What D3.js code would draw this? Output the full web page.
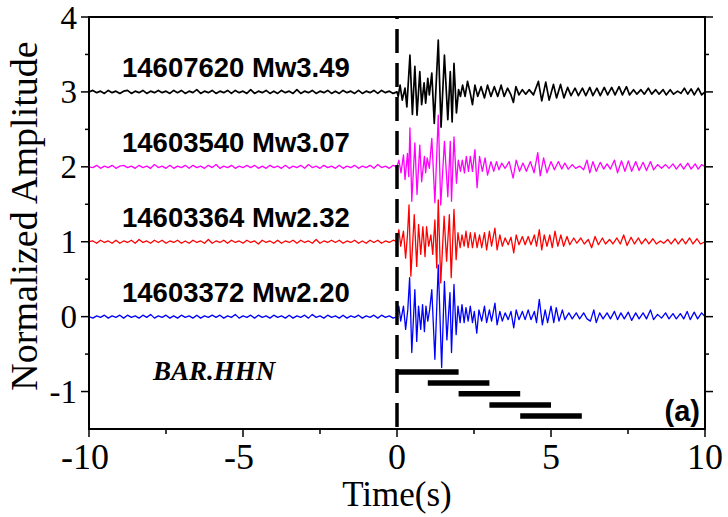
<!DOCTYPE html>
<html><head><meta charset="utf-8">
<script src="https://cdn.jsdelivr.net/npm/d3@7"></script>
<style>body{margin:0;background:#fff}svg{display:block}</style>
</head><body>
<svg id="chart" width="728" height="517"></svg>
<script>
// ---------- data ----------
const xTicks = [-10, -5, 0, 5, 10];
const xMinor = [-7.5, -2.5, 2.5, 7.5];
const yTicks = [-1, 0, 1, 2, 3, 4];
const yMinor = [-0.5, 0.5, 1.5, 2.5, 3.5];
const eventNames = ["14607620 Mw3.49", "14603540 Mw3.07", "14603364 Mw2.32", "14603372 Mw2.20"];
const offsets = [3, 2, 1, 0];
const colors = ["#000000", "#ff00ff", "#ff0000", "#0000ff"];
const stationLabel = "BAR.HHN";
const panelLabel = "(a)";
const pickTime = 0;
// time windows (start, end) and their levels
const winStart = [0, 1, 2, 3, 4];
const winEnd = [2, 3, 4, 5, 6];
const winLevel = [-0.74, -0.885, -1.03, -1.18, -1.325];

// pre-event noise: samples from -10 s every 0.125 s
const noiseStart = -10, noiseStep = 0.125;
const noiseBlack = [0,0.02,-0.01,0.01,-0.02,0.02,-0.01,0.01,-0.02,0.01,0.02,-0.02,0.01,-0.01,0.02,-0.02,0.01,-0.01,0.02,-0.01,0.01,-0.02,0.02,-0.01,0.02,-0.02,0.01,-0.01,0.03,-0.02,0.01,-0.01,0.02,-0.02,0.01,-0.01,0.02,-0.02,0.02,-0.01,0.01,-0.02,0.03,-0.02,0.01,-0.01,0.02,-0.02,0.01,-0.02,0.02,-0.01,0.01,-0.02,0.03,-0.02,0.01,-0.01,0.02,-0.02,0.01,-0.01,0.02,-0.02,0.01,-0.02,0.02,-0.01,0.01,-0.02,0.02,-0.02,0.01,-0.01,0.02,-0.02,0.02,-0.01,0.01,-0.02,0];
const noiseMagenta = [0,-0.01,0.02,-0.02,0.01,-0.01,0.02,-0.02,0.01,0.02,-0.01,0.01,-0.02,0.02,-0.01,0.01,-0.02,0.03,-0.01,0.01,-0.02,0.02,-0.02,0.01,-0.01,0.02,-0.02,0.02,-0.01,0.01,-0.02,0.02,-0.01,0.03,-0.02,0.01,-0.01,0.02,-0.02,0.01,-0.01,0.02,-0.01,0.02,-0.02,0.01,-0.02,0.02,-0.01,0.01,-0.02,0.02,-0.02,0.01,-0.01,0.02,-0.02,0.03,-0.01,0.01,-0.02,0.02,-0.01,0.01,-0.02,0.02,-0.02,0.01,-0.01,0.02,-0.02,0.01,-0.01,0.02,-0.02,0.03,-0.01,0.01,-0.02,0.02,0];
const noiseRed = [0,0.01,-0.02,0.02,-0.01,0.01,-0.02,0.02,-0.02,0.01,-0.01,0.02,-0.02,0.03,-0.01,0.01,-0.02,0.02,-0.01,0.02,-0.02,0.01,-0.01,0.02,-0.02,0.01,-0.02,0.02,-0.01,0.01,-0.02,0.03,-0.02,0.01,-0.01,0.02,-0.02,0.02,-0.01,0.01,-0.02,0.02,-0.01,0.01,-0.03,0.02,-0.01,0.01,-0.02,0.02,-0.02,0.01,-0.01,0.02,-0.02,0.02,-0.01,0.01,-0.02,0.03,-0.02,0.01,-0.01,0.02,-0.01,0.02,-0.02,0.01,-0.01,0.02,-0.02,0.01,-0.02,0.02,-0.01,0.02,-0.02,0.01,-0.01,0.02,0];
const noiseBlue = [0,-0.02,0.01,-0.01,0.02,-0.02,0.01,-0.01,0.02,-0.02,0.02,-0.01,0.01,-0.02,0.02,-0.01,0.03,-0.02,0.01,-0.01,0.02,-0.02,0.01,-0.02,0.02,-0.01,0.01,-0.02,0.02,-0.02,0.01,-0.01,0.02,-0.01,0.02,-0.02,0.01,-0.01,0.03,-0.02,0.01,-0.01,0.02,-0.02,0.02,-0.01,0.01,-0.02,0.02,-0.01,0.01,-0.02,0.02,-0.02,0.01,-0.01,0.02,-0.02,0.03,-0.01,0.01,-0.02,0.02,-0.01,0.01,-0.02,0.02,-0.02,0.01,-0.01,0.02,-0.02,0.01,-0.01,0.02,-0.02,0.02,-0.01,0.01,-0.02,0];

// post-event extrema: time (s) and amplitude relative to the trace offset
const tBlack = [0,0.04,0.10,0.17,0.26,0.32,0.42,0.50,0.58,0.65,0.74,0.80,0.88,0.93,1.00,1.05,1.13,1.21,1.34,1.43,1.54,1.65,1.73,1.79,1.85,1.93,2.00,2.06,2.13,2.21,2.29,2.38,2.45,2.53,2.62,2.73,2.84,2.94,3.05,3.16,3.27,3.38,3.48,3.59,3.70,3.78,3.86,3.96,4.07,4.18,4.29,4.43,4.59,4.70,4.83,4.94,5.08,5.18,5.31,5.42,5.54,5.65,5.78,5.89,6.02,6.13,6.26,6.36,6.49,6.60,6.73,6.84,6.97,7.08,7.21,7.32,7.45,7.55,7.68,7.79,7.92,8.03,8.16,8.27,8.40,8.51,8.64,8.74,8.87,8.98,9.11,9.22,9.33,9.44,9.55,9.65,9.78,9.89,10.0];
const aBlack = [0,-0.06,0.09,-0.11,0.05,-0.20,0.49,-0.30,0.34,-0.31,0.27,-0.17,0.12,-0.15,0.18,-0.04,0.25,-0.42,0.69,-0.47,0.49,-0.37,0.27,-0.40,0.38,-0.28,0.03,-0.06,0.09,-0.06,0.14,-0.02,-0.17,0.09,-0.06,0.07,-0.08,0.09,-0.06,0.07,-0.06,0.09,-0.06,0.05,-0.04,-0.14,0.07,-0.04,0.03,-0.03,0.03,-0.04,0.14,-0.12,0.13,-0.11,0.10,-0.08,0.10,-0.08,0.06,-0.05,0.05,-0.05,0.05,-0.05,0.06,-0.05,0.05,-0.05,0.06,-0.04,0.06,-0.04,0.07,-0.04,0.07,-0.04,0.03,-0.03,0.03,-0.03,0.05,-0.03,0.03,-0.03,0.03,-0.04,0.03,-0.03,0.01,-0.02,0.05,-0.03,0.04,-0.04,0.05,-0.04,0];
const tMagenta = [0,0.06,0.13,0.21,0.26,0.34,0.38,0.42,0.48,0.58,0.65,0.74,0.80,0.89,0.93,0.98,1.05,1.13,1.23,1.34,1.42,1.54,1.65,1.73,1.77,1.85,1.93,1.99,2.06,2.12,2.19,2.25,2.32,2.38,2.45,2.53,2.60,2.68,2.77,2.86,2.94,3.05,3.14,3.23,3.31,3.40,3.51,3.64,3.77,3.87,3.98,4.09,4.20,4.33,4.45,4.57,4.65,4.76,4.87,5.00,5.11,5.24,5.35,5.45,5.56,5.69,5.80,5.93,6.06,6.17,6.26,6.36,6.47,6.60,6.71,6.82,6.93,7.06,7.16,7.29,7.40,7.51,7.62,7.75,7.86,7.99,8.10,8.23,8.33,8.46,8.59,8.72,8.83,8.96,9.07,9.20,9.31,9.44,9.55,9.68,9.78,9.89,10.0];
const aMagenta = [0,0.09,-0.08,0.16,-0.17,0.18,-0.13,0.52,-0.46,0.32,-0.37,0.29,-0.20,0.14,-0.08,0.12,-0.02,0.38,-0.48,0.69,-0.51,0.34,-0.40,0.34,-0.46,0.40,-0.22,0.09,-0.06,0.09,-0.08,0.14,-0.06,0.14,-0.06,0.23,-0.28,0.14,-0.06,0.12,-0.11,0.07,-0.06,0.07,-0.04,0.05,-0.02,0.07,-0.15,0.09,-0.06,0.05,-0.06,0.07,-0.08,0.19,-0.12,0.12,-0.08,0.07,-0.04,0.07,-0.03,0.05,-0.03,0.03,-0.02,0.01,-0.04,0.09,-0.08,0.07,-0.06,0.06,-0.03,0.04,-0.03,0.09,-0.08,0.08,-0.06,0.08,-0.06,0.07,-0.05,0.06,-0.05,0.07,-0.04,0.03,-0.02,0.03,-0.02,0.04,-0.03,0.04,-0.03,0.05,-0.03,0.04,-0.03,0.03,0];
const tRed = [0,0.06,0.12,0.21,0.28,0.34,0.39,0.45,0.56,0.64,0.70,0.77,0.84,0.91,0.96,1.03,1.10,1.16,1.23,1.29,1.34,1.42,1.53,1.61,1.70,1.76,1.85,1.92,1.98,2.05,2.11,2.18,2.24,2.31,2.38,2.45,2.53,2.60,2.68,2.75,2.84,2.91,3.00,3.07,3.18,3.25,3.34,3.42,3.51,3.61,3.70,3.79,3.87,3.96,4.07,4.16,4.26,4.35,4.46,4.53,4.62,4.70,4.78,4.87,4.96,5.04,5.13,5.22,5.32,5.41,5.52,5.61,5.74,5.84,5.97,6.08,6.21,6.32,6.43,6.54,6.67,6.77,6.90,7.01,7.14,7.25,7.36,7.47,7.60,7.71,7.84,7.94,8.07,8.18,8.31,8.42,8.55,8.66,8.79,8.90,9.03,9.13,9.26,9.37,9.50,9.61,9.74,9.85,10.0];
const aRed = [0,0.16,-0.06,0.14,-0.22,0.09,0.49,-0.46,0.36,-0.33,0.23,-0.17,0.20,-0.20,0.20,-0.06,0.09,-0.17,0.29,-0.35,0.56,-0.55,0.34,-0.26,0.36,-0.48,0.43,-0.24,0.12,-0.08,0.09,-0.06,0.14,-0.08,0.12,-0.08,0.12,-0.08,0.09,-0.08,0.12,-0.11,0.14,-0.06,0.18,-0.11,0.09,-0.06,0.05,-0.04,0.06,-0.15,0.09,-0.04,0.07,-0.04,0.07,-0.04,0.09,-0.06,0.16,-0.11,0.09,-0.06,0.09,-0.08,0.14,-0.06,0.09,-0.06,0.07,-0.04,0.05,-0.02,0.05,-0.03,0.03,-0.08,0.07,-0.04,0.05,-0.03,0.03,-0.03,0.05,-0.03,0.09,-0.05,0.06,-0.03,0.05,-0.03,0.04,-0.03,0.04,-0.03,0.01,-0.02,0.03,-0.03,0.04,-0.03,0.04,-0.03,0.05,-0.03,0.04,-0.03,0];
const tBlue = [0,0.06,0.12,0.21,0.28,0.35,0.41,0.48,0.58,0.64,0.70,0.77,0.83,0.89,0.94,1.00,1.06,1.13,1.23,1.34,1.45,1.54,1.62,1.72,1.77,1.85,1.92,1.98,2.05,2.11,2.18,2.24,2.31,2.38,2.45,2.51,2.59,2.66,2.75,2.84,2.91,3.00,3.07,3.18,3.25,3.34,3.42,3.51,3.61,3.70,3.79,3.87,3.96,4.07,4.16,4.26,4.35,4.46,4.53,4.62,4.72,4.81,4.89,5.00,5.09,5.17,5.26,5.37,5.45,5.58,5.69,5.82,5.93,6.06,6.17,6.28,6.39,6.47,6.58,6.69,6.82,6.93,7.06,7.16,7.27,7.38,7.51,7.62,7.75,7.86,7.99,8.10,8.23,8.33,8.46,8.59,8.72,8.83,8.96,9.07,9.20,9.31,9.42,9.52,9.65,9.76,9.89,10.0];
const aBlue = [0,0.14,-0.06,0.14,-0.17,0.09,0.52,-0.48,0.36,-0.33,0.14,-0.17,0.16,-0.20,0.14,-0.06,0.09,0.36,-0.57,0.69,-0.68,0.47,-0.31,0.32,-0.48,0.43,-0.24,0.14,-0.08,0.16,-0.08,0.12,-0.06,0.14,-0.08,0.07,-0.22,0.09,-0.06,0.14,-0.08,0.09,-0.06,0.18,-0.11,0.07,-0.06,0.05,-0.04,0.07,-0.15,0.09,-0.04,0.07,-0.04,0.09,-0.04,0.07,-0.08,0.23,-0.11,0.09,-0.08,0.14,-0.08,0.12,-0.06,0.09,-0.04,0.05,-0.03,0.05,-0.03,0.05,-0.03,-0.06,0.09,-0.08,0.05,-0.03,0.05,-0.03,0.07,-0.04,0.05,-0.03,0.06,-0.05,0.05,-0.03,0.05,-0.03,0.09,-0.04,0.03,-0.02,0.05,-0.03,0.04,-0.03,0.04,-0.03,0.07,-0.04,0.06,-0.03,0.05,0];

const noises = [noiseBlack, noiseMagenta, noiseRed, noiseBlue];
const times = [tBlack, tMagenta, tRed, tBlue];
const amps = [aBlack, aMagenta, aRed, aBlue];

// ---------- drawing ----------
const svg = d3.select("#chart");
const L = 89, R = 705, T = 17, B = 429;
const x = d3.scaleLinear().domain([-10, 10]).range([L, R]);
const y = d3.scaleLinear().domain([-1.5, 4]).range([B, T]);
const serif = "'Liberation Serif','Times New Roman',serif";
const sans = "'Liberation Sans',Arial,Helvetica,sans-serif";
const widths = [1.7, 1.3, 1.3, 1.3];

// traces
const line = d3.line().x(d => x(d[0])).y(d => y(d[1]));
svg.append("clipPath").attr("id", "pc").append("rect")
  .attr("x", L).attr("y", T).attr("width", R - L).attr("height", B - T);
const traces = svg.append("g").attr("clip-path", "url(#pc)");
offsets.forEach((off, k) => {
  const pts = noises[k].map((v, i) => [noiseStart + i * noiseStep, off + v]).filter(p => p[0] < 0);
  times[k].forEach((t, i) => pts.push([t, off + amps[k][i]]));
  traces.append("path").datum(pts)
    .attr("d", line).attr("fill", "none")
    .attr("stroke", colors[k]).attr("stroke-width", widths[k])
    .attr("stroke-linejoin", "round");
});

// pick line
svg.append("line")
  .attr("x1", x(pickTime)).attr("x2", x(pickTime))
  .attr("y1", y(4)).attr("y2", y(-1.5))
  .attr("stroke", "#000").attr("stroke-width", 3.5)
  .attr("stroke-dasharray", "24,10").attr("stroke-dashoffset", 22);

// time windows
svg.append("g").selectAll("line").data(winStart).join("line")
  .attr("x1", d => x(d)).attr("x2", (d, i) => x(winEnd[i]))
  .attr("y1", (d, i) => y(winLevel[i])).attr("y2", (d, i) => y(winLevel[i]))
  .attr("stroke", "#000").attr("stroke-width", 5.5);

// event labels
offsets.forEach((off, k) => {
  svg.append("text").attr("x", 122).attr("y", y(off) - 15)
    .attr("font-family", sans).attr("font-weight", "bold").attr("font-size", 27.5)
    .attr("fill", "#000").text(eventNames[k]);
});
svg.append("text").attr("x", 153).attr("y", 380)
  .attr("font-family", serif).attr("font-weight", "bold").attr("font-style", "italic")
  .attr("font-size", 27).attr("fill", "#000").text(stationLabel);
svg.append("text").attr("x", 700).attr("y", 421).attr("text-anchor", "end")
  .attr("font-family", sans).attr("font-weight", "bold").attr("font-size", 29)
  .attr("fill", "#000").text(panelLabel);

// frame
svg.append("rect").attr("x", L).attr("y", T).attr("width", R - L).attr("height", B - T)
  .attr("fill", "none").attr("stroke", "#000").attr("stroke-width", 2);

// ticks
const tk = svg.append("g").attr("stroke", "#000").attr("stroke-width", 1.5);
yTicks.forEach(v => {
  tk.append("line").attr("x1", L - 8).attr("x2", L).attr("y1", y(v)).attr("y2", y(v));
  tk.append("line").attr("x1", R).attr("x2", R + 8).attr("y1", y(v)).attr("y2", y(v));
});
yMinor.forEach(v => {
  tk.append("line").attr("x1", L - 4).attr("x2", L).attr("y1", y(v)).attr("y2", y(v));
  tk.append("line").attr("x1", R).attr("x2", R + 4).attr("y1", y(v)).attr("y2", y(v));
});
xTicks.forEach(v => {
  tk.append("line").attr("x1", x(v)).attr("x2", x(v)).attr("y1", B).attr("y2", B + 8);
});
xMinor.forEach(v => {
  tk.append("line").attr("x1", x(v)).attr("x2", x(v)).attr("y1", B).attr("y2", B + 5);
});

// tick labels
const fmt = d => (d < 0 ? "-" : "") + Math.abs(d);
svg.append("g").selectAll("text").data(yTicks).join("text")
  .attr("x", 77).attr("y", d => y(d)).attr("dy", "0.35em").attr("text-anchor", "end")
  .attr("font-family", serif).attr("font-size", 33).attr("fill", "#000").text(fmt);
svg.append("g").selectAll("text").data(xTicks).join("text")
  .attr("x", d => x(d) - (d < 0 ? 4 : 0)).attr("y", 469).attr("text-anchor", "middle")
  .attr("font-family", serif).attr("font-size", 36).attr("fill", "#000").text(fmt);

// axis titles
svg.append("text").attr("x", 397).attr("y", 506).attr("text-anchor", "middle")
  .attr("font-family", serif).attr("font-size", 35).attr("fill", "#000").text("Time(s)");
svg.append("text").attr("transform", "translate(37,216) rotate(-90)").attr("text-anchor", "middle")
  .attr("font-family", serif).attr("font-size", 38).attr("fill", "#000").text("Normalized Amplitude");
</script>
</body></html>
